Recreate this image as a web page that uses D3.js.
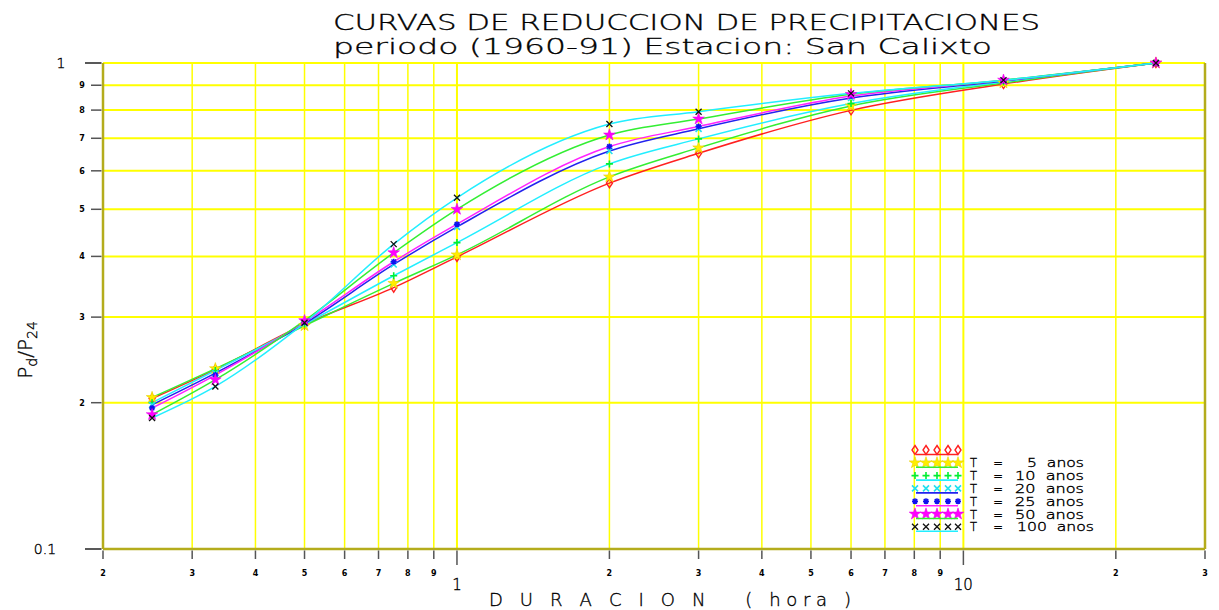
<!DOCTYPE html>
<html>
<head>
<meta charset="utf-8">
<script src="https://cdn.jsdelivr.net/npm/d3@7"></script>
<style>
  html, body { margin: 0; padding: 0; background: #fff; }
  svg { display: block; }
</style>
</head>
<body>
<svg id="chart" width="1219" height="610"></svg>
<script>
// ---------- DATA ----------
const durations = [0.25, 1/3, 0.5, 0.75, 1, 2, 3, 6, 12, 24];   // hours
const seriesS1 = [0.204, 0.234, 0.290, 0.345, 0.399, 0.566, 0.652, 0.799, 0.905, 1.0];
const seriesS2 = [0.205, 0.235, 0.288, 0.352, 0.403, 0.583, 0.669, 0.816, 0.910, 1.0];
const seriesS3 = [0.200, 0.233, 0.290, 0.365, 0.427, 0.620, 0.698, 0.825, 0.915, 1.0];
const seriesS4 = [0.198, 0.230, 0.291, 0.385, 0.460, 0.659, 0.732, 0.847, 0.918, 1.0];
const seriesS5 = [0.195, 0.228, 0.293, 0.390, 0.466, 0.673, 0.740, 0.855, 0.920, 1.0];
const seriesS6 = [0.189, 0.223, 0.295, 0.407, 0.500, 0.711, 0.767, 0.862, 0.922, 1.0];
const seriesS7 = [0.186, 0.216, 0.292, 0.424, 0.528, 0.749, 0.794, 0.866, 0.922, 1.0];
const legendLabels = ["", "T =   5 anos", "T =  10 anos", "T =  20 anos", "T =  25 anos", "T =  50 anos", "T = 100 anos"];
const xMinorTicks = [0.2,0.3,0.4,0.5,0.6,0.7,0.8,0.9,2,3,4,5,6,7,8,9,20,30];
const xMajorTicks = [1, 10];
const yMinorTicks = [0.2,0.3,0.4,0.5,0.6,0.7,0.8,0.9];
const yMajorTicks = [0.1, 1];
const titleLines = ["CURVAS DE REDUCCION DE PRECIPITACIONES", "periodo (1960-91) Estacion: San Calixto"];
const xTitle = "D U R A C I O N   ( hora )";

// ---------- STYLE ----------
const markerKinds = ["diamond", "starY", "plus", "cross", "asterisk", "starM", "xblack"];
const lineColors = ["#ff2020", "#33ee33", "#22eeff", "#2222ee", "#ff22ff", "#33ee33", "#22eeff"];
const allSeries = [seriesS1, seriesS2, seriesS3, seriesS4, seriesS5, seriesS6, seriesS7];
const LIGHT = "'DejaVu Sans', 'Liberation Sans', sans-serif";

const svg = d3.select("#chart");
const x = d3.scaleLog().domain([0.2, 30]).range([103, 1205]);
const y = d3.scaleLog().domain([0.1, 1]).range([549, 63]);
const GRID = "#ffff00", AXIS = "#b4ac1c", TICK = "#555";

function lightText(sel, size) {
  return sel.attr("font-family", LIGHT).attr("font-weight", 200).attr("font-size", size)
    .attr("fill", "#000").attr("stroke", "#000").attr("stroke-width", 0.35);
}

// grid
const vGrid = xMinorTicks.concat(xMajorTicks).filter(v => v > 0.2 && v < 30);
svg.append("g").selectAll("line").data(vGrid).join("line")
  .attr("x1", d => x(d)).attr("x2", d => x(d))
  .attr("y1", y(1)).attr("y2", y(0.1))
  .attr("stroke", GRID).attr("stroke-width", d => (d === 1 || d === 10) ? 2 : 1.5);
svg.append("g").selectAll("line").data(yMinorTicks.concat([1])).join("line")
  .attr("x1", x(0.2)).attr("x2", x(30))
  .attr("y1", d => y(d)).attr("y2", d => y(d))
  .attr("stroke", GRID).attr("stroke-width", 2);

// marker drawing
function drawMarker(g, kind, cx, cy) {
  const t = `translate(${cx},${cy})`;
  if (kind === "diamond") {
    g.append("path").attr("transform", t).attr("d", "M0,-4.5L3,0L0,4.5L-3,0Z")
      .attr("fill", "none").attr("stroke", "#ff2020").attr("stroke-width", 1.4);
  } else if (kind === "starY" || kind === "starM") {
    const col = kind === "starY" ? "#ffee00" : "#ff00ff";
    g.append("path").attr("transform", t).attr("d", d3.symbol(d3.symbolStar, 42)())
      .attr("fill", col).attr("stroke", kind === "starY" ? "#e8d000" : "#ee00ee").attr("stroke-width", 0.6);
  } else if (kind === "plus") {
    g.append("path").attr("transform", t).attr("d", "M-3.5,0H3.5M0,-3.5V3.5")
      .attr("stroke", "#00ee33").attr("stroke-width", 1.6);
  } else if (kind === "cross") {
    g.append("path").attr("transform", t).attr("d", "M-3,-3L3,3M-3,3L3,-3")
      .attr("stroke", "#22e0ee").attr("stroke-width", 1.6);
  } else if (kind === "asterisk") {
    g.append("path").attr("transform", t).attr("d", "M-3,0H3M0,-3V3M-2.2,-2.2L2.2,2.2M-2.2,2.2L2.2,-2.2")
      .attr("stroke", "#1010ee").attr("stroke-width", 1.5);
  } else if (kind === "xblack") {
    g.append("path").attr("transform", t).attr("d", "M-3,-3L3,3M-3,3L3,-3")
      .attr("stroke", "#111").attr("stroke-width", 1.3);
  }
}

// curves
const lineGen = d3.line().x(d => x(d[0])).y(d => y(d[1])).curve(d3.curveMonotoneX);
const curvesG = svg.append("g");
allSeries.forEach((s, i) => {
  curvesG.append("path").datum(durations.map((d, j) => [d, s[j]]))
    .attr("d", lineGen).attr("fill", "none")
    .attr("stroke", lineColors[i]).attr("stroke-width", 1.5);
});
const markG = svg.append("g");
allSeries.forEach((s, i) => {
  durations.forEach((d, j) => drawMarker(markG, markerKinds[i], x(d), y(s[j])));
});

// axes frame
svg.append("line").attr("x1", x(0.2)).attr("x2", x(0.2)).attr("y1", y(1)).attr("y2", y(0.1))
  .attr("stroke", AXIS).attr("stroke-width", 2.5);
svg.append("line").attr("x1", x(30)).attr("x2", x(30)).attr("y1", y(1)).attr("y2", y(0.1))
  .attr("stroke", AXIS).attr("stroke-width", 2.5);
svg.append("line").attr("x1", x(0.2)).attr("x2", x(30)).attr("y1", y(0.1)).attr("y2", y(0.1))
  .attr("stroke", AXIS).attr("stroke-width", 2.5);

// y ticks
const yAx = svg.append("g");
yAx.selectAll("line.mn").data(yMinorTicks).join("line")
  .attr("x1", x(0.2) - 12).attr("x2", x(0.2) - 1.5).attr("y1", d => y(d)).attr("y2", d => y(d))
  .attr("stroke", TICK).attr("stroke-width", 1.5);
yAx.selectAll("line.mj").data(yMajorTicks).join("line").attr("class", "mj")
  .attr("x1", x(0.2) - 18).attr("x2", x(0.2) - 1.5).attr("y1", d => y(d)).attr("y2", d => y(d))
  .attr("stroke", "#222").attr("stroke-width", 1.5);
yAx.selectAll("text.mn").data(yMinorTicks).join("text").attr("class", "mn")
  .attr("x", 82).attr("y", d => y(d) + 3).attr("text-anchor", "middle")
  .attr("font-family", "DejaVu Sans").attr("font-weight", "bold").attr("font-size", 8)
  .text(d => Math.round(d * 10));
lightText(yAx.selectAll("text.mj").data(yMajorTicks).join("text").attr("class", "mj"), 14)
  .attr("x", d => d === 1 ? 61 : 45).attr("y", d => y(d) + 5).attr("text-anchor", "middle")
  .text(d => d === 1 ? "1" : "0.1");

// x ticks
const xAx = svg.append("g");
xAx.selectAll("line.mn").data(xMinorTicks).join("line")
  .attr("x1", d => x(d)).attr("x2", d => x(d)).attr("y1", y(0.1) + 1.5).attr("y2", y(0.1) + 10)
  .attr("stroke", TICK).attr("stroke-width", 1.5);
xAx.selectAll("line.mj").data(xMajorTicks).join("line").attr("class", "mj")
  .attr("x1", d => x(d)).attr("x2", d => x(d)).attr("y1", y(0.1) + 1.5).attr("y2", y(0.1) + 16)
  .attr("stroke", TICK).attr("stroke-width", 1.5);
xAx.selectAll("text.mn").data(xMinorTicks).join("text").attr("class", "mn")
  .attr("x", d => x(d)).attr("y", 576).attr("text-anchor", "middle")
  .attr("font-family", "DejaVu Sans").attr("font-weight", "bold").attr("font-size", 8)
  .text(d => { const e = Math.floor(Math.log10(d) + 1e-9); return Math.round(d / Math.pow(10, e)); });
lightText(xAx.selectAll("text.mj").data(xMajorTicks).join("text").attr("class", "mj"), 15)
  .attr("x", d => x(d)).attr("y", 590).attr("text-anchor", "middle")
  .text(d => String(d));

// titles
lightText(svg.append("text"), 22).attr("x", 333).attr("y", 30)
  .attr("textLength", 707).attr("lengthAdjust", "spacingAndGlyphs").text(titleLines[0]);
lightText(svg.append("text"), 22).attr("x", 333).attr("y", 54)
  .attr("textLength", 659).attr("lengthAdjust", "spacingAndGlyphs").text(titleLines[1]);
lightText(svg.append("text"), 18).attr("x", 489).attr("y", 606).attr("xml:space", "preserve")
  .style("white-space", "pre")
  .attr("textLength", 362).attr("lengthAdjust", "spacing").text(xTitle);

// y title
const yt = lightText(svg.append("text"), 20).attr("transform", "translate(32,350) rotate(-90)")
  .attr("text-anchor", "middle");
yt.append("tspan").text("P");
yt.append("tspan").attr("font-size", 14).attr("dy", 5).text("d");
yt.append("tspan").attr("dy", -5).text("/P");
yt.append("tspan").attr("font-size", 14).attr("dy", 5).text("24");

// legend
const lg = svg.append("g");
const rowY0 = 450, rowStep = 12.8;
const mxs = [915, 926, 937, 948, 958];
markerKinds.forEach((k, i) => {
  const ry = rowY0 + i * rowStep;
  mxs.forEach(mx => drawMarker(lg, k, mx, ry));
  lg.append("line").attr("x1", 916).attr("x2", 958).attr("y1", ry + 4.5).attr("y2", ry + 4.5)
    .attr("stroke", lineColors[i]).attr("stroke-width", 1.6);
  if (legendLabels[i]) {
    const parts = legendLabels[i].split("=");
    lightText(lg.append("text"), 11.5).attr("x", 970).attr("y", ry + 4.5)
      .attr("textLength", 33).attr("lengthAdjust", "spacing").text("T =");
    const rest = parts[1].trim();
    const num = rest.split(" ")[0];
    const startX = num.length === 1 ? 1027 : (num.length === 2 ? 1015 : 1017);
    const endX = num.length === 3 ? 1094 : 1084;
    lightText(lg.append("text"), 11.5).attr("x", startX).attr("y", ry + 4.5)
      .attr("xml:space", "preserve").style("white-space", "pre")
      .attr("textLength", endX - startX).attr("lengthAdjust", "spacingAndGlyphs").text(num + "  anos");
  }
});
</script>
</body>
</html>
